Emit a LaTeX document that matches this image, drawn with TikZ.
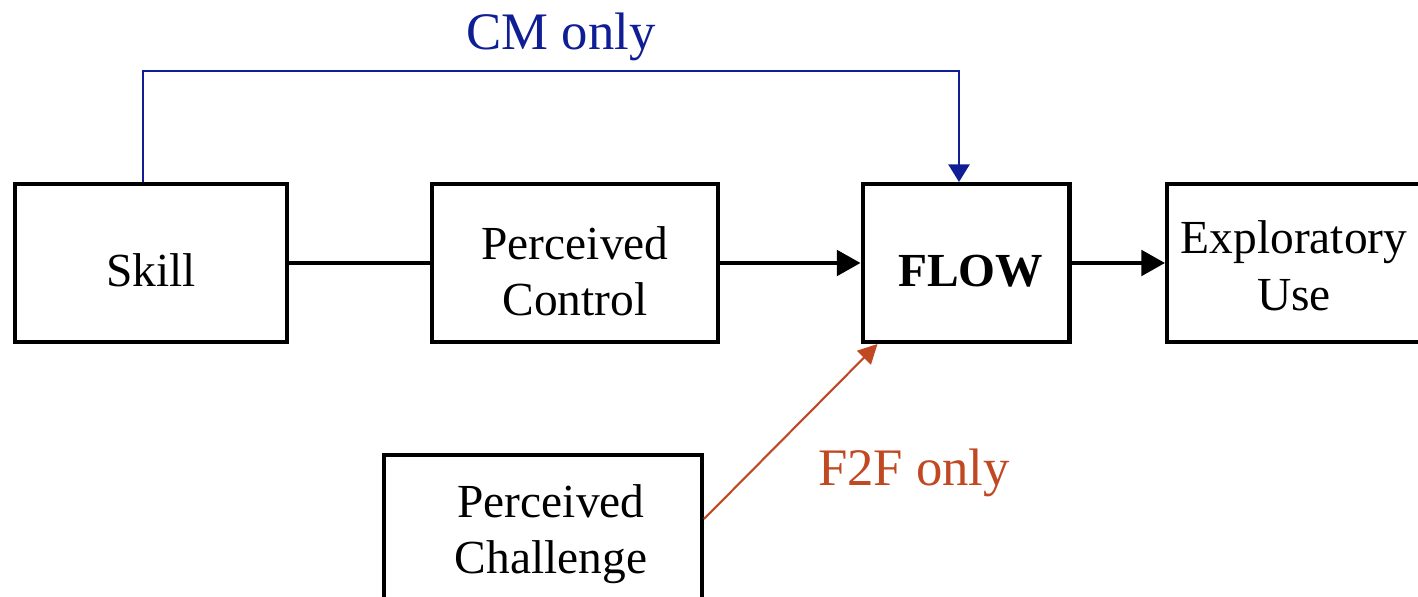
\documentclass[tikz,border=0pt]{standalone}
\usepackage{fontspec}
\setmainfont{Liberation Serif}
\usetikzlibrary{arrows.meta}

\definecolor{cmblue}{RGB}{16,30,150}
\definecolor{ftfred}{RGB}{192,72,34}

\tikzset{
  box/.style={draw, line width=2.3pt, align=center, font=\fontsize{27}{32}\selectfont, minimum height=3.16cm},
  blackarrow/.style={line width=2.3pt, -{Triangle[length=13.5pt,width=14.5pt]}},
  lbl/.style={font=\fontsize{30}{34}\selectfont}
}

\begin{document}
\begin{tikzpicture}[x=0.02cm, y=-0.02cm]
\useasboundingbox (0,0) rectangle (1418,597);
\node[box, minimum width=5.44cm] (skill) at (151,263){\rule{0pt}{27.5pt}Skill};
\node[box, minimum width=5.72cm] (control) at (575,263){\rule{0pt}{28.6pt}Perceived\\Control};
\node[box, minimum width=4.14cm] (flow) at (966,263){\rule{0pt}{27pt}\hspace{0.18cm}\textbf{FLOW}};
\node[box, minimum width=5.08cm] (explore) at (1294,263){\rule{0pt}{21.8pt}Exploratory\\Use};
\node[box, minimum width=6.36cm] (challenge) at (543,534){\hspace*{0.32cm}Perceived\\\hspace*{0.32cm}Challenge};
\draw[line width=2.3pt](skill) -- (control);
\draw[blackarrow](control) -- (flow);
\draw[blackarrow](flow) -- (explore);

% CM only path over the top
\coordinate (cmtop) at (143,71);
\draw[cmblue, line width=1.2pt, -{Triangle[length=10pt,width=12pt]}]
  (skill.north -| cmtop) -- (cmtop) -| ([xshift=-0.14cm]flow.north);
\node[lbl, text=cmblue] (cmlabel) at (561,37){CM only};

% F2F only arrow
\draw[ftfred, line width=1.2pt, -{Triangle[length=11pt,width=11pt]}]
  ([yshift=0.3cm]challenge.east) -- ([xshift=0.34cm]flow.south west);
\node[lbl, text=ftfred] (ftflabel) at (914,473){F2F only};

\end{tikzpicture}
\end{document}
